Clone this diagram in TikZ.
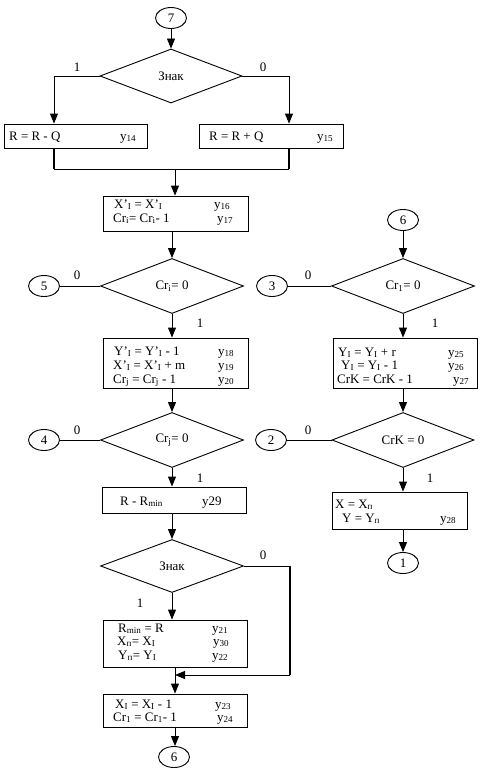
\documentclass[tikz,border=0pt]{standalone}
\usepackage{fontspec}
\setmainfont{Liberation Serif}
\usetikzlibrary{shapes.geometric,arrows.meta,calc}
\newcommand{\yl}[1]{y\textsubscript{#1}}
\newcommand{\sbI}{\textsubscript{I}}
\begin{document}
\begin{tikzpicture}[x=1bp,y=-1bp,
  every node/.style={font=\fontsize{13}{15}\selectfont},
  box/.style={draw,rectangle,inner sep=0,line width=0.9bp},
  dec/.style={draw,diamond,inner sep=0,line width=0.9bp},
  conn/.style={draw,ellipse,minimum width=31bp,minimum height=21bp,inner sep=0,line width=0.9bp},
  arr/.style={line width=0.9bp,-{Triangle[length=10bp,width=8bp]}},
  ln/.style={line width=0.9bp},
  heavy/.style={line width=1.8bp},
  txt/.style={anchor=base west,inner sep=0},
  lab/.style={inner sep=0}
]
\useasboundingbox (0,0) rectangle (482,775);
\fill[white] (0,0) rectangle (482,775);

% ---------- left column ----------
\node[conn] (c7) at (171,18) {7};
\node[dec,minimum width=142bp,minimum height=54bp] (d1) at (171,76) {Знак};
\node[box,minimum width=143bp,minimum height=24bp] (b1) at (75.5,136) {};
\node[box,minimum width=144bp,minimum height=24bp] (b2) at (271,136) {};
\coordinate (lx) at (54,0);
\coordinate (rx) at (289,0);
\coordinate (mg) at (175,169);
\node[box,minimum width=145bp,minimum height=35bp] (b3) at (175.5,213.5) {};
\node[dec,minimum width=143bp,minimum height=55bp] (d2) at (172,286) {Cr\textsubscript{i}= 0};
\node[conn] (c5) at (44,286) {5};
\node[box,minimum width=145bp,minimum height=50bp] (b4) at (175.5,363) {};
\node[dec,minimum width=143bp,minimum height=55bp] (d3) at (172,440) {Cr\textsubscript{j}= 0};
\node[conn] (c4) at (44,440) {4};
\node[box,minimum width=144bp,minimum height=26bp] (b5) at (174,500) {};
\node[dec,minimum width=143bp,minimum height=53bp] (d4) at (172,566) {Знак};
\coordinate (lp) at (290,675);
\node[box,minimum width=144bp,minimum height=47bp] (b6) at (175,643.5) {};
\node[box,minimum width=144bp,minimum height=33bp] (b7) at (175,710.5) {};
\node[conn] (c6b) at (174,757) {6};

% ---------- right column ----------
\node[conn] (c6) at (403,220) {6};
\node[dec,minimum width=143bp,minimum height=55bp] (d5) at (403,286) {Cr\textsubscript{1}= 0};
\node[conn] (c3) at (272,286) {3};
\node[box,minimum width=144bp,minimum height=50bp] (b8) at (405,363) {};
\node[dec,minimum width=142bp,minimum height=55bp] (d6) at (403,440) {CrK = 0};
\node[conn] (c2) at (271,440) {2};
\node[box,minimum width=135bp,minimum height=37bp] (b9) at (399.5,510.5) {};
\node[conn] (c1) at (403,563) {1};

% ---------- box texts ----------
\node[txt] at (9,140) {R = R - Q};
\node[txt] at (120,140) {\yl{14}};
\node[txt] at (209,140) {R = R + Q};
\node[txt] at (317,140) {\yl{15}};

\node[txt] at (114,208) {X’\sbI{} = X’\sbI};
\node[txt] at (214,208) {\yl{16}};
\node[txt] at (113,222) {Cr\textsubscript{i}= Cr\textsubscript{i}- 1};
\node[txt] at (217,222) {\yl{17}};

\node[txt] at (114,355) {Y’\sbI{} = Y’\sbI{} - 1};
\node[txt] at (218,355) {\yl{18}};
\node[txt] at (113,369) {X’\sbI{} = X’\sbI{} + m};
\node[txt] at (218,369) {\yl{19}};
\node[txt] at (113,383) {Cr\textsubscript{j} = Cr\textsubscript{j} - 1};
\node[txt] at (218,383) {\yl{20}};

\node[txt] at (120,505) {R - R\textsubscript{min}};
\node[txt] at (202,505) {y29};

\node[txt] at (118,632) {R\textsubscript{min} = R};
\node[txt] at (212,632) {\yl{21}};
\node[txt] at (117,645) {X\textsubscript{п}= X\sbI};
\node[txt] at (213,645) {\yl{30}};
\node[txt] at (118,659) {Y\textsubscript{п}= Y\sbI};
\node[txt] at (212,659) {\yl{22}};

\node[txt] at (115,708) {X\sbI{} = X\sbI{} - 1};
\node[txt] at (215,708) {\yl{23}};
\node[txt] at (113,721) {Cr\textsubscript{1} = Cr\textsubscript{1}- 1};
\node[txt] at (217,721) {\yl{24}};

\node[txt] at (338,356) {Y\sbI{} = Y\sbI{} + r};
\node[txt] at (448,356) {\yl{25}};
\node[txt] at (341,369) {Y\sbI{} = Y\sbI{} - 1};
\node[txt] at (448,369) {\yl{26}};
\node[txt] at (337,383) {CrK = CrK - 1};
\node[txt] at (453,383) {\yl{27}};

\node[txt] at (335,508) {X = X\textsubscript{п}};
\node[txt] at (342,522) {Y = Y\textsubscript{п}};
\node[txt] at (440,522) {\yl{28}};

% ---------- branch labels ----------
\node[lab] at (77,67) {1};
\node[lab] at (263,67) {0};
\node[lab] at (77,275) {0};
\node[lab] at (200,323) {1};
\node[lab] at (77,430) {0};
\node[lab] at (200,478) {1};
\node[lab] at (263,555) {0};
\node[lab] at (140,603) {1};
\node[lab] at (308,275) {0};
\node[lab] at (435,323) {1};
\node[lab] at (308,430) {0};
\node[lab] at (430,478) {1};

% ---------- connectors ----------
\draw[arr] (c7.south) -- (d1.north);
\draw[arr] (d1.west) -| (lx |- b1.north);
\draw[arr] (d1.east) -| (rx |- b2.north);
\draw[heavy] (lx |- b1.south) -- (lx |- mg);
\draw[heavy] (rx |- b2.south) -- (rx |- mg);
\draw[ln] (lx |- mg) -- (rx |- mg);
\draw[arr] (mg) -- (mg |- b3.north);
\draw[arr] (d2.north |- b3.south) -- (d2.north);
\draw[ln] (c5.east) -- (d2.west);
\draw[arr] (d2.south) -- (d2.south |- b4.north);
\draw[arr] (d3.north |- b4.south) -- (d3.north);
\draw[ln] (c4.east) -- (d3.west);
\draw[arr] (d3.south) -- (d3.south |- b5.north);
\draw[arr] (d4.north |- b5.south) -- (d4.north);
\draw[arr] (d4.south) -- (d4.south |- b6.north);
\draw[ln] (d4.east) -- (d4.east -| lp);
\draw[heavy] (d4.east -| lp) -- (lp);
\draw[arr] (lp) -- (b6.south |- lp);
\draw[arr] (b6.south) -- (b7.north);
\draw[arr] (b7.south) -- (b7.south |- c6b.north);

\draw[arr] (c6.south) -- (d5.north);
\draw[ln] (c3.east) -- (d5.west);
\draw[arr] (d5.south) -- (d5.south |- b8.north);
\draw[arr] (d6.north |- b8.south) -- (d6.north);
\draw[ln] (c2.east) -- (d6.west);
\draw[arr] (d6.south) -- (d6.south |- b9.north);
\draw[arr] (c1.north |- b9.south) -- (c1.north);
\end{tikzpicture}
\end{document}
